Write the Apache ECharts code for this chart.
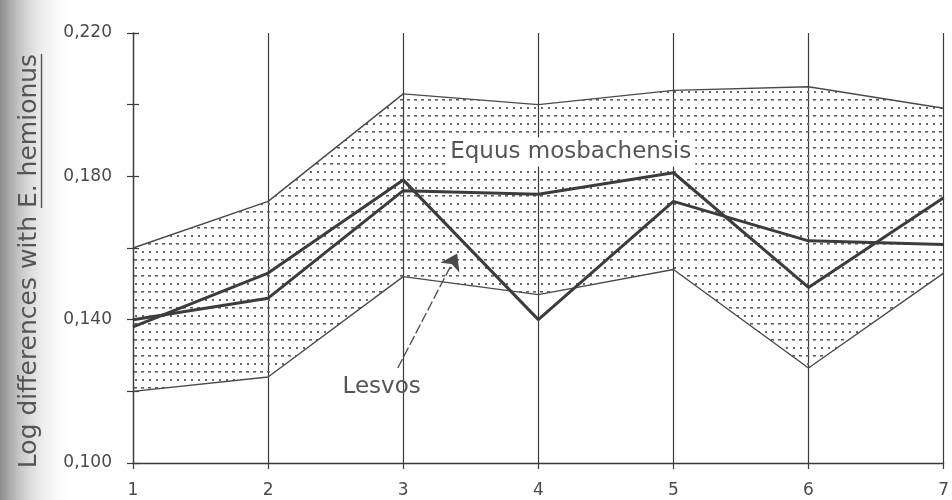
<!DOCTYPE html>
<html>
<head>
<meta charset="utf-8">
<script src="https://cdn.jsdelivr.net/npm/echarts@6/dist/echarts.min.js"></script>
<style>
html,body{margin:0;padding:0;background:#fff;}
#chart{width:952px;height:500px;}
</style>
</head>
<body>
<div id="chart"></div>
<script>
// ---- data ----
const categories = [1, 2, 3, 4, 5, 6, 7];
const xTickLabels = ['1', '2', '3', '4', '5', '6', '7'];
const mosbachensisUpper = [0.160, 0.173, 0.203, 0.200, 0.204, 0.205, 0.199];
const mosbachensisLower = [0.120, 0.124, 0.152, 0.147, 0.154, 0.1265, 0.153];
const lesvosA = [0.138, 0.153, 0.179, 0.140, 0.173, 0.162, 0.161];
const lesvosB = [0.140, 0.146, 0.176, 0.175, 0.181, 0.149, 0.174];
const yTicks = [0.100, 0.120, 0.140, 0.160, 0.180, 0.200, 0.220];
const yLabelTicks = [0.100, 0.140, 0.180, 0.220];
const yAxisTitle = 'Log differences with ';
const yAxisTitleUnderlined = 'E. hemionus';
const bandLabel = 'Equus mosbachensis';
const bandLabelPos = [4.24, 0.1868];
const lesvosLabel = 'Lesvos';
const lesvosLabelPos = [2.84, 0.1212];
const arrowFrom = [2.96, 0.1265];
const arrowTo = [3.40, 0.1585];

// ---- dotted fill pattern ----
const pc = document.createElement('canvas');
pc.width = 7; pc.height = 16;
const pctx = pc.getContext('2d');
pctx.fillStyle = '#606060';
pctx.fillRect(1, 3, 3, 1.6);
pctx.fillStyle = '#6a6a6a';
pctx.fillRect(2, 11, 2, 2);
const dotPattern = { image: pc, repeat: 'repeat' };

const chart = echarts.init(document.getElementById('chart'), null, { renderer: 'canvas' });

const font = '"DejaVu Sans", sans-serif';
const titleSize = 25;
const mctx = document.createElement('canvas').getContext('2d');
mctx.font = titleSize + 'px "DejaVu Sans"';
const wPrefix = mctx.measureText(yAxisTitle).width;
const wU = mctx.measureText(yAxisTitleUnderlined).width;
const wAll = wPrefix + wU;

const yMin = yTicks[0], yMax = yTicks[yTicks.length - 1], yStep = yTicks[1] - yTicks[0];

const option = {
  animation: false,
  backgroundColor: '#ffffff',
  grid: { left: 133, right: 8, top: 33, bottom: 37, containLabel: false },
  xAxis: {
    type: 'value', min: categories[0], max: categories[categories.length - 1], interval: 1,
    axisLine: { show: true, lineStyle: { color: '#3a3a3a', width: 1.3 } },
    axisTick: { show: true, length: 6, lineStyle: { color: '#3a3a3a', width: 1.2 } },
    axisLabel: {
      margin: 19, color: '#4a4a4a', fontSize: 17, fontFamily: font,
      formatter: function (v) { const i = categories.indexOf(v); return i >= 0 ? xTickLabels[i] : ''; }
    },
    splitLine: { show: true, lineStyle: { color: '#3a3a3a', width: 1.2 } }
  },
  yAxis: [{
    type: 'value', min: yMin, max: yMax, interval: yStep,
    axisLine: { show: true, lineStyle: { color: '#3a3a3a', width: 1.3 } },
    axisTick: { show: true, length: 6, lineStyle: { color: '#3a3a3a', width: 1.2 } },
    axisLabel: {
      margin: 21, color: '#4a4a4a', fontSize: 17, fontFamily: font,
      formatter: function (v) {
        const hit = yLabelTicks.some(t => Math.abs(t - v) < 1e-9);
        return hit ? v.toFixed(3).replace('.', ',') : '';
      }
    },
    splitLine: { show: false }
  }, {
    type: 'value', min: yMin, max: yMax, interval: yStep, position: 'left',
    axisLine: { show: false },
    axisTick: { show: true, inside: true, length: 6, lineStyle: { color: '#3a3a3a', width: 1.2 } },
    axisLabel: { show: false },
    splitLine: { show: false }
  }],
  graphic: [
    {
      type: 'rect', z: -10, silent: true,
      shape: { x: 0, y: 0, width: 75, height: 500 },
      style: {
        fill: new echarts.graphic.LinearGradient(0, 0, 1, 0, [
          { offset: 0, color: 'rgba(110,110,110,0.8)' },
          { offset: 0.4, color: 'rgba(185,185,185,0.5)' },
          { offset: 1, color: 'rgba(255,255,255,0)' }
        ])
      }
    },
    {
      type: 'group', x: 29, y: 261, rotation: Math.PI / 2, silent: true,
      children: [
        {
          type: 'text', x: -wAll / 2, y: 0,
          style: {
            text: yAxisTitle + yAxisTitleUnderlined, fill: '#555', font: titleSize + 'px "DejaVu Sans"',
            align: 'left', verticalAlign: 'middle'
          }
        },
        {
          type: 'line',
          shape: { x1: -wAll / 2 + wPrefix, y1: titleSize * 0.5, x2: wAll / 2, y2: titleSize * 0.5 },
          style: { stroke: '#555', lineWidth: 1.4 }
        }
      ]
    }
  ],
  series: [
    {
      type: 'custom', name: 'band', z: 1, silent: true,
      data: categories.map((c, i) => [c, mosbachensisUpper[i], mosbachensisLower[i]]),
      encode: { x: 0, y: [1, 2] },
      renderItem: function (params, api) {
        if (params.dataIndex !== 0) return null;
        const up = categories.map((c, i) => api.coord([c, mosbachensisUpper[i]]));
        const lo = categories.map((c, i) => api.coord([c, mosbachensisLower[i]])).reverse();
        return { type: 'polygon', shape: { points: up.concat(lo) }, style: { fill: dotPattern, stroke: null } };
      }
    },
    {
      type: 'line', name: 'upper', z: 2, symbol: 'none', silent: true,
      data: categories.map((c, i) => [c, mosbachensisUpper[i]]),
      lineStyle: { color: '#4a4a4a', width: 1.4 }
    },
    {
      type: 'line', name: 'lower', z: 2, symbol: 'none', silent: true,
      data: categories.map((c, i) => [c, mosbachensisLower[i]]),
      lineStyle: { color: '#4a4a4a', width: 1.4 }
    },
    {
      type: 'line', name: 'Lesvos', z: 3, symbol: 'none', silent: true,
      data: categories.map((c, i) => [c, lesvosA[i]]),
      lineStyle: { color: '#3c3c3c', width: 3 },
      markLine: {
        silent: true, symbol: ['none', 'arrow'], symbolSize: 16,
        label: { show: false },
        lineStyle: { color: '#4a4a4a', width: 1.3, type: [10, 3] },
        data: [[{ coord: arrowFrom }, { coord: arrowTo }]]
      },
      markPoint: {
        silent: true, symbol: 'rect', symbolSize: 0,
        data: [
          {
            coord: bandLabelPos,
            label: {
              show: true, formatter: bandLabel, position: 'inside', color: '#555',
              fontSize: 23, fontFamily: font, backgroundColor: '#fff', padding: [3, 4, 3, 4]
            }
          },
          {
            coord: lesvosLabelPos,
            label: {
              show: true, formatter: lesvosLabel, position: 'inside', color: '#555',
              fontSize: 23, fontFamily: font
            }
          }
        ]
      }
    },
    {
      type: 'line', name: 'Lesvos 2', z: 3, symbol: 'none', silent: true,
      data: categories.map((c, i) => [c, lesvosB[i]]),
      lineStyle: { color: '#3c3c3c', width: 3 }
    }
  ]
};
chart.setOption(option);
</script>
</body>
</html>
